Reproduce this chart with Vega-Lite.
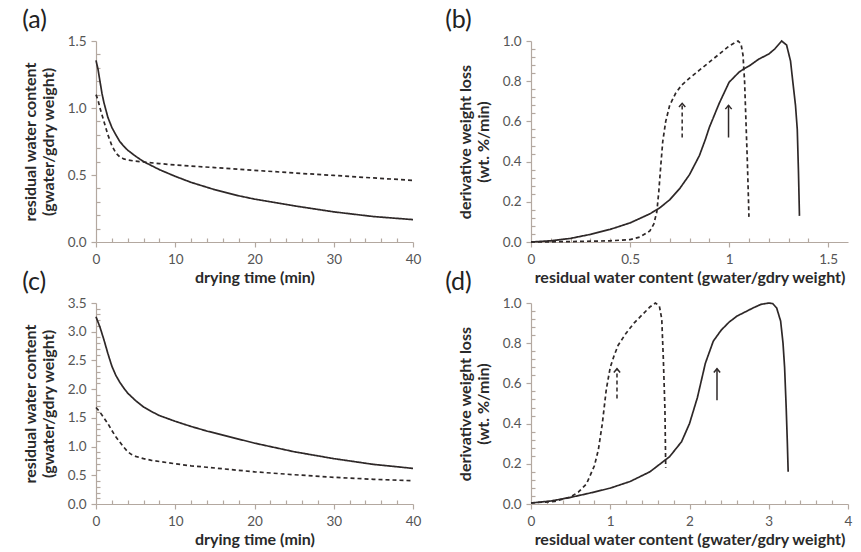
{
  "$schema": "https://vega.github.io/schema/vega-lite/v6.json",
  "background": "white",
  "padding": {"left": 22, "top": 8, "right": 5, "bottom": 0},
  "spacing": -16,
  "datasets": {
    "a": [
      {"x": 0, "y": 1.355, "s": "solid"}, {"x": 0.25, "y": 1.29, "s": "solid"}, {"x": 0.5, "y": 1.2, "s": "solid"}, {"x": 0.75, "y": 1.11, "s": "solid"}, {"x": 1, "y": 1.04, "s": "solid"}, {"x": 1.5, "y": 0.93, "s": "solid"}, {"x": 2, "y": 0.855, "s": "solid"}, {"x": 2.5, "y": 0.8, "s": "solid"}, {"x": 3, "y": 0.75, "s": "solid"}, {"x": 3.5, "y": 0.715, "s": "solid"}, {"x": 4, "y": 0.685, "s": "solid"}, {"x": 5, "y": 0.64, "s": "solid"}, {"x": 6, "y": 0.6, "s": "solid"}, {"x": 7, "y": 0.57, "s": "solid"}, {"x": 8, "y": 0.54, "s": "solid"}, {"x": 10, "y": 0.49, "s": "solid"}, {"x": 12, "y": 0.445, "s": "solid"}, {"x": 15, "y": 0.39, "s": "solid"}, {"x": 18, "y": 0.345, "s": "solid"}, {"x": 20, "y": 0.32, "s": "solid"}, {"x": 25, "y": 0.27, "s": "solid"}, {"x": 30, "y": 0.225, "s": "solid"}, {"x": 35, "y": 0.19, "s": "solid"}, {"x": 40, "y": 0.167, "s": "solid"},
      {"x": 0, "y": 1.1, "s": "dashed"}, {"x": 0.25, "y": 1.06, "s": "dashed"}, {"x": 0.5, "y": 1.0, "s": "dashed"}, {"x": 1, "y": 0.9, "s": "dashed"}, {"x": 1.5, "y": 0.8, "s": "dashed"}, {"x": 2, "y": 0.72, "s": "dashed"}, {"x": 2.5, "y": 0.665, "s": "dashed"}, {"x": 3, "y": 0.635, "s": "dashed"}, {"x": 3.5, "y": 0.62, "s": "dashed"}, {"x": 4, "y": 0.612, "s": "dashed"}, {"x": 5, "y": 0.603, "s": "dashed"}, {"x": 6, "y": 0.597, "s": "dashed"}, {"x": 8, "y": 0.585, "s": "dashed"}, {"x": 10, "y": 0.575, "s": "dashed"}, {"x": 15, "y": 0.555, "s": "dashed"}, {"x": 20, "y": 0.535, "s": "dashed"}, {"x": 25, "y": 0.515, "s": "dashed"}, {"x": 30, "y": 0.497, "s": "dashed"}, {"x": 35, "y": 0.478, "s": "dashed"}, {"x": 40, "y": 0.46, "s": "dashed"}
    ],
    "b": [
      {"x": 0, "y": 0, "s": "solid"}, {"x": 0.1, "y": 0.006, "s": "solid"}, {"x": 0.2, "y": 0.018, "s": "solid"}, {"x": 0.3, "y": 0.038, "s": "solid"}, {"x": 0.4, "y": 0.063, "s": "solid"}, {"x": 0.5, "y": 0.095, "s": "solid"}, {"x": 0.6, "y": 0.14, "s": "solid"}, {"x": 0.65, "y": 0.17, "s": "solid"}, {"x": 0.7, "y": 0.21, "s": "solid"}, {"x": 0.75, "y": 0.265, "s": "solid"}, {"x": 0.8, "y": 0.335, "s": "solid"}, {"x": 0.85, "y": 0.43, "s": "solid"}, {"x": 0.88, "y": 0.51, "s": "solid"}, {"x": 0.9, "y": 0.57, "s": "solid"}, {"x": 0.95, "y": 0.69, "s": "solid"}, {"x": 1.0, "y": 0.795, "s": "solid"}, {"x": 1.05, "y": 0.845, "s": "solid"}, {"x": 1.08, "y": 0.865, "s": "solid"}, {"x": 1.1, "y": 0.875, "s": "solid"}, {"x": 1.15, "y": 0.91, "s": "solid"}, {"x": 1.2, "y": 0.935, "s": "solid"}, {"x": 1.23, "y": 0.96, "s": "solid"}, {"x": 1.265, "y": 1.0, "s": "solid"}, {"x": 1.29, "y": 0.98, "s": "solid"}, {"x": 1.31, "y": 0.9, "s": "solid"}, {"x": 1.32, "y": 0.81, "s": "solid"}, {"x": 1.335, "y": 0.68, "s": "solid"}, {"x": 1.344, "y": 0.56, "s": "solid"}, {"x": 1.35, "y": 0.35, "s": "solid"}, {"x": 1.355, "y": 0.13, "s": "solid"},
      {"x": 0, "y": 0, "s": "dashed"}, {"x": 0.2, "y": 0.002, "s": "dashed"}, {"x": 0.4, "y": 0.006, "s": "dashed"}, {"x": 0.5, "y": 0.012, "s": "dashed"}, {"x": 0.55, "y": 0.025, "s": "dashed"}, {"x": 0.6, "y": 0.055, "s": "dashed"}, {"x": 0.62, "y": 0.09, "s": "dashed"}, {"x": 0.635, "y": 0.15, "s": "dashed"}, {"x": 0.645, "y": 0.25, "s": "dashed"}, {"x": 0.655, "y": 0.38, "s": "dashed"}, {"x": 0.665, "y": 0.5, "s": "dashed"}, {"x": 0.68, "y": 0.6, "s": "dashed"}, {"x": 0.7, "y": 0.68, "s": "dashed"}, {"x": 0.73, "y": 0.74, "s": "dashed"}, {"x": 0.76, "y": 0.78, "s": "dashed"}, {"x": 0.8, "y": 0.815, "s": "dashed"}, {"x": 0.85, "y": 0.855, "s": "dashed"}, {"x": 0.9, "y": 0.895, "s": "dashed"}, {"x": 0.95, "y": 0.935, "s": "dashed"}, {"x": 1.0, "y": 0.975, "s": "dashed"}, {"x": 1.045, "y": 1.0, "s": "dashed"}, {"x": 1.06, "y": 0.985, "s": "dashed"}, {"x": 1.07, "y": 0.93, "s": "dashed"}, {"x": 1.078, "y": 0.8, "s": "dashed"}, {"x": 1.085, "y": 0.6, "s": "dashed"}, {"x": 1.092, "y": 0.4, "s": "dashed"}, {"x": 1.098, "y": 0.2, "s": "dashed"}, {"x": 1.1, "y": 0.125, "s": "dashed"}
    ],
    "c": [
      {"x": 0, "y": 3.26, "s": "solid"}, {"x": 0.5, "y": 3.08, "s": "solid"}, {"x": 1, "y": 2.86, "s": "solid"}, {"x": 1.5, "y": 2.62, "s": "solid"}, {"x": 2, "y": 2.4, "s": "solid"}, {"x": 2.5, "y": 2.24, "s": "solid"}, {"x": 3, "y": 2.12, "s": "solid"}, {"x": 3.5, "y": 2.02, "s": "solid"}, {"x": 4, "y": 1.93, "s": "solid"}, {"x": 5, "y": 1.8, "s": "solid"}, {"x": 6, "y": 1.69, "s": "solid"}, {"x": 7, "y": 1.61, "s": "solid"}, {"x": 8, "y": 1.54, "s": "solid"}, {"x": 10, "y": 1.44, "s": "solid"}, {"x": 12, "y": 1.35, "s": "solid"}, {"x": 14, "y": 1.27, "s": "solid"}, {"x": 16, "y": 1.2, "s": "solid"}, {"x": 18, "y": 1.13, "s": "solid"}, {"x": 20, "y": 1.06, "s": "solid"}, {"x": 25, "y": 0.91, "s": "solid"}, {"x": 30, "y": 0.79, "s": "solid"}, {"x": 35, "y": 0.69, "s": "solid"}, {"x": 40, "y": 0.62, "s": "solid"},
      {"x": 0, "y": 1.68, "s": "dashed"}, {"x": 0.5, "y": 1.6, "s": "dashed"}, {"x": 1, "y": 1.5, "s": "dashed"}, {"x": 1.5, "y": 1.4, "s": "dashed"}, {"x": 2, "y": 1.28, "s": "dashed"}, {"x": 2.5, "y": 1.17, "s": "dashed"}, {"x": 3, "y": 1.08, "s": "dashed"}, {"x": 3.5, "y": 0.99, "s": "dashed"}, {"x": 4, "y": 0.91, "s": "dashed"}, {"x": 4.5, "y": 0.86, "s": "dashed"}, {"x": 5, "y": 0.83, "s": "dashed"}, {"x": 6, "y": 0.79, "s": "dashed"}, {"x": 7, "y": 0.76, "s": "dashed"}, {"x": 8, "y": 0.74, "s": "dashed"}, {"x": 10, "y": 0.7, "s": "dashed"}, {"x": 12, "y": 0.665, "s": "dashed"}, {"x": 14, "y": 0.64, "s": "dashed"}, {"x": 17, "y": 0.6, "s": "dashed"}, {"x": 20, "y": 0.56, "s": "dashed"}, {"x": 25, "y": 0.51, "s": "dashed"}, {"x": 30, "y": 0.465, "s": "dashed"}, {"x": 35, "y": 0.43, "s": "dashed"}, {"x": 40, "y": 0.405, "s": "dashed"}
    ],
    "d": [
      {"x": 0, "y": 0.005, "s": "solid"}, {"x": 0.25, "y": 0.015, "s": "solid"}, {"x": 0.5, "y": 0.033, "s": "solid"}, {"x": 0.75, "y": 0.055, "s": "solid"}, {"x": 1, "y": 0.079, "s": "solid"}, {"x": 1.25, "y": 0.112, "s": "solid"}, {"x": 1.5, "y": 0.16, "s": "solid"}, {"x": 1.75, "y": 0.236, "s": "solid"}, {"x": 1.9, "y": 0.31, "s": "solid"}, {"x": 2, "y": 0.4, "s": "solid"}, {"x": 2.1, "y": 0.53, "s": "solid"}, {"x": 2.2, "y": 0.7, "s": "solid"}, {"x": 2.3, "y": 0.81, "s": "solid"}, {"x": 2.4, "y": 0.865, "s": "solid"}, {"x": 2.5, "y": 0.905, "s": "solid"}, {"x": 2.6, "y": 0.935, "s": "solid"}, {"x": 2.7, "y": 0.955, "s": "solid"}, {"x": 2.8, "y": 0.975, "s": "solid"}, {"x": 2.9, "y": 0.993, "s": "solid"}, {"x": 3.0, "y": 1.0, "s": "solid"}, {"x": 3.05, "y": 0.997, "s": "solid"}, {"x": 3.1, "y": 0.975, "s": "solid"}, {"x": 3.15, "y": 0.91, "s": "solid"}, {"x": 3.18, "y": 0.8, "s": "solid"}, {"x": 3.2, "y": 0.68, "s": "solid"}, {"x": 3.22, "y": 0.48, "s": "solid"}, {"x": 3.235, "y": 0.3, "s": "solid"}, {"x": 3.245, "y": 0.16, "s": "solid"},
      {"x": 0, "y": 0.005, "s": "dashed"}, {"x": 0.3, "y": 0.013, "s": "dashed"}, {"x": 0.5, "y": 0.035, "s": "dashed"}, {"x": 0.6, "y": 0.06, "s": "dashed"}, {"x": 0.7, "y": 0.1, "s": "dashed"}, {"x": 0.8, "y": 0.19, "s": "dashed"}, {"x": 0.85, "y": 0.27, "s": "dashed"}, {"x": 0.9, "y": 0.4, "s": "dashed"}, {"x": 0.95, "y": 0.57, "s": "dashed"}, {"x": 1.0, "y": 0.68, "s": "dashed"}, {"x": 1.05, "y": 0.74, "s": "dashed"}, {"x": 1.1, "y": 0.79, "s": "dashed"}, {"x": 1.2, "y": 0.85, "s": "dashed"}, {"x": 1.3, "y": 0.9, "s": "dashed"}, {"x": 1.4, "y": 0.94, "s": "dashed"}, {"x": 1.5, "y": 0.98, "s": "dashed"}, {"x": 1.57, "y": 1.0, "s": "dashed"}, {"x": 1.62, "y": 0.985, "s": "dashed"}, {"x": 1.65, "y": 0.92, "s": "dashed"}, {"x": 1.67, "y": 0.72, "s": "dashed"}, {"x": 1.69, "y": 0.47, "s": "dashed"}, {"x": 1.7, "y": 0.18, "s": "dashed"}
    ],
    "arrowsB": [
      {"x": 0.763, "y": 0.52, "y2": 0.69, "s": "dashed"},
      {"x": 0.997, "y": 0.52, "y2": 0.68, "s": "solid"}
    ],
    "arrowsD": [
      {"x": 1.085, "y": 0.525, "y2": 0.673, "s": "dashed"},
      {"x": 2.347, "y": 0.516, "y2": 0.673, "s": "solid"}
    ]
  },
  "vconcat": [
    {
      "spacing": 24,
      "hconcat": [
        {
          "width": 317, "height": 201,
          "title": {"text": "(a)"},
          "data": {"name": "a"},
          "mark": {"type": "line", "strokeWidth": 1.7, "color": "#2e2828"},
          "encoding": {
            "x": {"field": "x", "type": "quantitative", "scale": {"domain": [0, 40]}, "axis": {"values": [0,2,4,6,8,10,12,14,16,18,20,22,24,26,28,30,32,34,36,38,40], "labelExpr": "datum.value % 10 === 0 ? datum.label : ''", "tickSize": {"condition": {"test": "datum.value % 10 === 0", "value": 5}, "value": -4}, "title": "drying time (min)"}},
            "y": {"field": "y", "type": "quantitative", "scale": {"domain": [0, 1.5]}, "axis": {"values": [0,0.1,0.2,0.3,0.4,0.5,0.6,0.7,0.8,0.9,1.0,1.1,1.2,1.3,1.4,1.5], "format": ".1f", "labelExpr": "round(datum.value*10) % 5 === 0 ? datum.label : ''", "tickSize": {"condition": {"test": "round(datum.value*10) % 5 === 0", "value": 5}, "value": -4}, "title": ["residual water content", "(gwater/gdry weight)"]}},
            "strokeDash": {"field": "s", "type": "nominal", "scale": {"domain": ["solid", "dashed"], "range": [[1, 0], [4, 3]]}, "legend": null}
          }
        },
        {
          "width": 317, "height": 201,
          "title": {"text": "(b)", "dx": -12},
          "resolve": {"axis": {"x": "independent", "y": "independent"}},
          "layer": [
            {
              "data": {"name": "b"},
              "mark": {"type": "line", "strokeWidth": 1.7, "color": "#2e2828"},
              "encoding": {
                "x": {"field": "x", "type": "quantitative", "scale": {"domain": [0, 1.5]}, "axis": {"orient": "bottom", "values": [0,0.1,0.2,0.3,0.4,0.5,0.6,0.7,0.8,0.9,1.0,1.1,1.2,1.3,1.4,1.5], "format": "~g", "labelExpr": "round(datum.value*10) % 5 === 0 ? datum.label : ''", "tickSize": {"condition": {"test": "round(datum.value*10) % 5 === 0", "value": 5}, "value": -4}, "title": "residual water content (gwater/gdry weight)"}},
                "y": {"field": "y", "type": "quantitative", "scale": {"domain": [0, 1]}, "axis": {"orient": "left", "values": [0,0.04,0.08,0.12,0.16,0.2,0.24,0.28,0.32,0.36,0.4,0.44,0.48,0.52,0.56,0.6,0.64,0.68,0.72,0.76,0.8,0.84,0.88,0.92,0.96,1.0], "format": ".1f", "labelExpr": "round(datum.value*100) % 20 === 0 ? datum.label : ''", "tickSize": {"condition": {"test": "round(datum.value*100) % 20 === 0", "value": 5}, "value": -4}, "title": ["derivative weight loss", "(wt. %/min)"]}},
                "strokeDash": {"field": "s", "type": "nominal", "scale": {"domain": ["solid", "dashed"], "range": [[1, 0], [4, 3]]}, "legend": null}
              }
            },
            {
              "data": {"name": "arrowsB"},
              "mark": {"type": "rule", "strokeWidth": 1.5, "color": "#2e2828"},
              "encoding": {
                "x": {"field": "x", "type": "quantitative", "axis": null},
                "y": {"field": "y", "type": "quantitative", "axis": null},
                "y2": {"field": "y2"},
                "strokeDash": {"field": "s", "type": "nominal", "scale": {"domain": ["solid", "dashed"], "range": [[1, 0], [4, 3]]}, "legend": null}
              }
            },
            {
              "data": {"name": "arrowsB"},
              "mark": {"type": "point", "shape": "M-1,1.2L0,0L1,1.2", "filled": false, "size": 40, "strokeWidth": 1.5, "color": "#2e2828", "opacity": 1},
              "encoding": {
                "x": {"field": "x", "type": "quantitative", "axis": null},
                "y": {"field": "y2", "type": "quantitative", "axis": null}
              }
            }
          ]
        }
      ]
    },
    {
      "spacing": 24,
      "hconcat": [
        {
          "width": 317, "height": 201,
          "title": {"text": "(c)"},
          "data": {"name": "c"},
          "mark": {"type": "line", "strokeWidth": 1.7, "color": "#2e2828"},
          "encoding": {
            "x": {"field": "x", "type": "quantitative", "scale": {"domain": [0, 40]}, "axis": {"values": [0,2,4,6,8,10,12,14,16,18,20,22,24,26,28,30,32,34,36,38,40], "labelExpr": "datum.value % 10 === 0 ? datum.label : ''", "tickSize": {"condition": {"test": "datum.value % 10 === 0", "value": 5}, "value": -4}, "title": "drying time (min)"}},
            "y": {"field": "y", "type": "quantitative", "scale": {"domain": [0, 3.5]}, "axis": {"values": [0,0.1,0.2,0.3,0.4,0.5,0.6,0.7,0.8,0.9,1.0,1.1,1.2,1.3,1.4,1.5,1.6,1.7,1.8,1.9,2.0,2.1,2.2,2.3,2.4,2.5,2.6,2.7,2.8,2.9,3.0,3.1,3.2,3.3,3.4,3.5], "format": ".1f", "labelExpr": "round(datum.value*10) % 5 === 0 ? datum.label : ''", "tickSize": {"condition": {"test": "round(datum.value*10) % 5 === 0", "value": 5}, "value": -4}, "title": ["residual water content", "(gwater/gdry weight)"]}},
            "strokeDash": {"field": "s", "type": "nominal", "scale": {"domain": ["solid", "dashed"], "range": [[1, 0], [4, 3]]}, "legend": null}
          }
        },
        {
          "width": 317, "height": 201,
          "title": {"text": "(d)", "dx": -12},
          "resolve": {"axis": {"x": "independent", "y": "independent"}},
          "layer": [
            {
              "data": {"name": "d"},
              "mark": {"type": "line", "strokeWidth": 1.7, "color": "#2e2828"},
              "encoding": {
                "x": {"field": "x", "type": "quantitative", "scale": {"domain": [0, 4]}, "axis": {"orient": "bottom", "values": [0,0.2,0.4,0.6,0.8,1.0,1.2,1.4,1.6,1.8,2.0,2.2,2.4,2.6,2.8,3.0,3.2,3.4,3.6,3.8,4.0], "format": "~g", "labelExpr": "round(datum.value*10) % 10 === 0 ? datum.label : ''", "tickSize": {"condition": {"test": "round(datum.value*10) % 10 === 0", "value": 5}, "value": -4}, "title": "residual water content (gwater/gdry weight)"}},
                "y": {"field": "y", "type": "quantitative", "scale": {"domain": [0, 1]}, "axis": {"orient": "left", "values": [0,0.04,0.08,0.12,0.16,0.2,0.24,0.28,0.32,0.36,0.4,0.44,0.48,0.52,0.56,0.6,0.64,0.68,0.72,0.76,0.8,0.84,0.88,0.92,0.96,1.0], "format": ".1f", "labelExpr": "round(datum.value*100) % 20 === 0 ? datum.label : ''", "tickSize": {"condition": {"test": "round(datum.value*100) % 20 === 0", "value": 5}, "value": -4}, "title": ["derivative weight loss", "(wt. %/min)"]}},
                "strokeDash": {"field": "s", "type": "nominal", "scale": {"domain": ["solid", "dashed"], "range": [[1, 0], [4, 3]]}, "legend": null}
              }
            },
            {
              "data": {"name": "arrowsD"},
              "mark": {"type": "rule", "strokeWidth": 1.5, "color": "#2e2828"},
              "encoding": {
                "x": {"field": "x", "type": "quantitative", "axis": null},
                "y": {"field": "y", "type": "quantitative", "axis": null},
                "y2": {"field": "y2"},
                "strokeDash": {"field": "s", "type": "nominal", "scale": {"domain": ["solid", "dashed"], "range": [[1, 0], [4, 3]]}, "legend": null}
              }
            },
            {
              "data": {"name": "arrowsD"},
              "mark": {"type": "point", "shape": "M-1,1.2L0,0L1,1.2", "filled": false, "size": 40, "strokeWidth": 1.5, "color": "#2e2828", "opacity": 1},
              "encoding": {
                "x": {"field": "x", "type": "quantitative", "axis": null},
                "y": {"field": "y2", "type": "quantitative", "axis": null}
              }
            }
          ]
        }
      ]
    }
  ],
  "config": {
    "view": {"stroke": null},
    "axis": {
      "grid": false,
      "domainColor": "#b3a8a0",
      "tickColor": "#b3a8a0",
      "domainWidth": 1.2,
      "tickWidth": 1.2,
      "labelColor": "#555555",
      "labelFont": "Lato",
      "labelFontSize": 13.5,
      "labelPadding": 5,
      "labelFlush": false,
      "labelOverlap": false,
      "titleFont": "Lato",
      "titleFontSize": 16,
      "titleFontWeight": "bold",
      "titleColor": "#2a2a2a",
      "titlePadding": 4
    },
    "axisY": {"titlePadding": 11},
    "title": {"font": "Lato", "fontSize": 25, "fontWeight": "normal", "color": "#222222", "anchor": "start", "frame": "bounds", "offset": 1}
  }
}
